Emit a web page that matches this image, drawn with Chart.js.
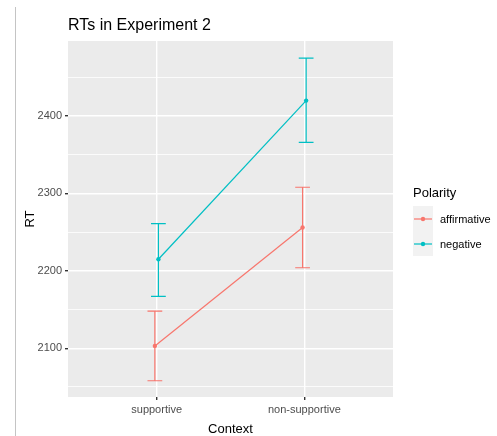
<!DOCTYPE html>
<html>
<head>
<meta charset="utf-8">
<script src="https://cdn.jsdelivr.net/npm/chart.js@4/dist/chart.umd.min.js"></script>
<style>
    html, body { margin: 0; padding: 0; background: #fff; }
    #wrap { width: 497px; height: 436px; }
</style>
</head>
<body>
<div id="wrap"><canvas id="chart" width="497" height="436"></canvas></div>
<script>
const categories = ["supportive", "non-supportive"];
const seriesNames = ["affirmative", "negative"];
const affirmativeMean = [2103, 2256];
const affirmativeLow = [2058, 2204];
const affirmativeHigh = [2148, 2308];
const negativeMean = [2215, 2420];
const negativeLow = [2167, 2366];
const negativeHigh = [2261, 2475];
const yTicks = [2050, 2100, 2150, 2200, 2250, 2300, 2350, 2400, 2450];

const colors = ["#F8766D", "#00BFC4"];
const dodge = [-0.012, 0.012];
const FONT = "'Liberation Sans', Arial, sans-serif";

const means = [affirmativeMean, negativeMean];
const lows = [affirmativeLow, negativeLow];
const highs = [affirmativeHigh, negativeHigh];

const datasets = seriesNames.map((name, s) => ({
    label: name,
    data: means[s].map((v, i) => ({ x: i + 1 + dodge[s], y: v })),
    borderColor: colors[s],
    backgroundColor: colors[s],
    borderWidth: 1.2,
    pointRadius: 2.2,
    pointBorderWidth: 0,
    tension: 0
}));

// ── panel background, error bars, titles, legend ──────────
const ggPlugin = {
    id: "gg",
    beforeDraw(chart) {
        const { ctx, chartArea: a } = chart;
        ctx.save();
        ctx.fillStyle = "#EBEBEB";
        ctx.fillRect(a.left, a.top, a.right - a.left, a.bottom - a.top);
        // screenshot border line on the left
        ctx.strokeStyle = "#C4C4C4";
        ctx.lineWidth = 1;
        ctx.beginPath();
        ctx.moveTo(15.5, 7);
        ctx.lineTo(15.5, 436);
        ctx.stroke();
        ctx.restore();
    },
    afterDatasetsDraw(chart) {
        const { ctx, scales: { x, y } } = chart;
        ctx.save();
        ctx.lineWidth = 1.2;
        seriesNames.forEach((name, s) => {
            ctx.strokeStyle = colors[s];
            categories.forEach((c, i) => {
                const px = x.getPixelForValue(i + 1 + dodge[s]);
                const hw = x.getPixelForValue(1.05) - x.getPixelForValue(1);
                const yl = y.getPixelForValue(lows[s][i]);
                const yh = y.getPixelForValue(highs[s][i]);
                ctx.beginPath();
                ctx.moveTo(px, yl); ctx.lineTo(px, yh);
                ctx.moveTo(px - hw, yl); ctx.lineTo(px + hw, yl);
                ctx.moveTo(px - hw, yh); ctx.lineTo(px + hw, yh);
                ctx.stroke();
            });
        });
        ctx.restore();
    },
    afterDraw(chart) {
        const { ctx, chartArea: a } = chart;
        ctx.save();
        ctx.fillStyle = "#000";
        ctx.textBaseline = "alphabetic";
        ctx.textAlign = "left";
        ctx.font = "16px " + FONT;
        ctx.fillText("RTs in Experiment 2", a.left, 30);

        ctx.font = "13px " + FONT;
        ctx.textAlign = "center";
        ctx.fillText("Context", (a.left + a.right) / 2, 433);

        ctx.save();
        ctx.translate(34, (a.top + a.bottom) / 2);
        ctx.rotate(-Math.PI / 2);
        ctx.fillText("RT", 0, 0);
        ctx.restore();

        // legend
        ctx.textAlign = "left";
        ctx.font = "13px " + FONT;
        ctx.fillText("Polarity", 413, 197);
        ctx.fillStyle = "#F2F2F2";
        ctx.fillRect(413, 206, 20, 50);
        ctx.font = "11px " + FONT;
        ctx.textBaseline = "middle";
        seriesNames.forEach((name, s) => {
            const ky = 219 + s * 25;
            ctx.strokeStyle = colors[s];
            ctx.fillStyle = colors[s];
            ctx.lineWidth = 1.2;
            ctx.beginPath();
            ctx.moveTo(414, ky); ctx.lineTo(432, ky);
            ctx.stroke();
            ctx.beginPath();
            ctx.arc(423, ky, 2.2, 0, Math.PI * 2);
            ctx.fill();
            ctx.fillStyle = "#000";
            ctx.fillText(name, 440, ky + 0.5);
        });
        ctx.restore();
    }
};

new Chart(document.getElementById("chart"), {
    type: "line",
    data: { datasets },
    options: {
        responsive: false,
        animation: false,
        layout: { padding: { top: 41, right: 104, bottom: 0, left: 0 } },
        plugins: {
            legend: { display: false },
            tooltip: { enabled: false }
        },
        scales: {
            x: {
                type: "linear",
                min: 0.4,
                max: 2.6,
                afterBuildTicks: (s) => { s.ticks = [{ value: 1 }, { value: 2 }]; },
                afterFit: (s) => { s.height = 39; },
                ticks: {
                    callback: (v) => categories[v - 1],
                    color: "#4D4D4D",
                    font: { family: FONT, size: 11 },
                    padding: 3,
                    maxRotation: 0
                },
                grid: {
                    color: "#FFFFFF",
                    lineWidth: 1.4,
                    tickColor: "#333333",
                    tickLength: 3
                },
                border: { display: false }
            },
            y: {
                min: 2037,
                max: 2497,
                afterBuildTicks: (s) => { s.ticks = yTicks.map((v) => ({ value: v })); },
                afterFit: (s) => { s.width = 68; },
                ticks: {
                    callback: (v) => (v % 100 === 0 ? v : ""),
                    color: "#4D4D4D",
                    font: { family: FONT, size: 11 },
                    padding: 3
                },
                grid: {
                    color: "#FFFFFF",
                    lineWidth: (c) => (c.tick && c.tick.value % 100 === 0 ? 1.4 : 0.8),
                    tickColor: (c) => (c.tick && c.tick.value % 100 === 0 ? "#333333" : "rgba(0,0,0,0)"),
                    tickLength: 3
                },
                border: { display: false }
            }
        }
    },
    plugins: [ggPlugin]
});
</script>
</body>
</html>
